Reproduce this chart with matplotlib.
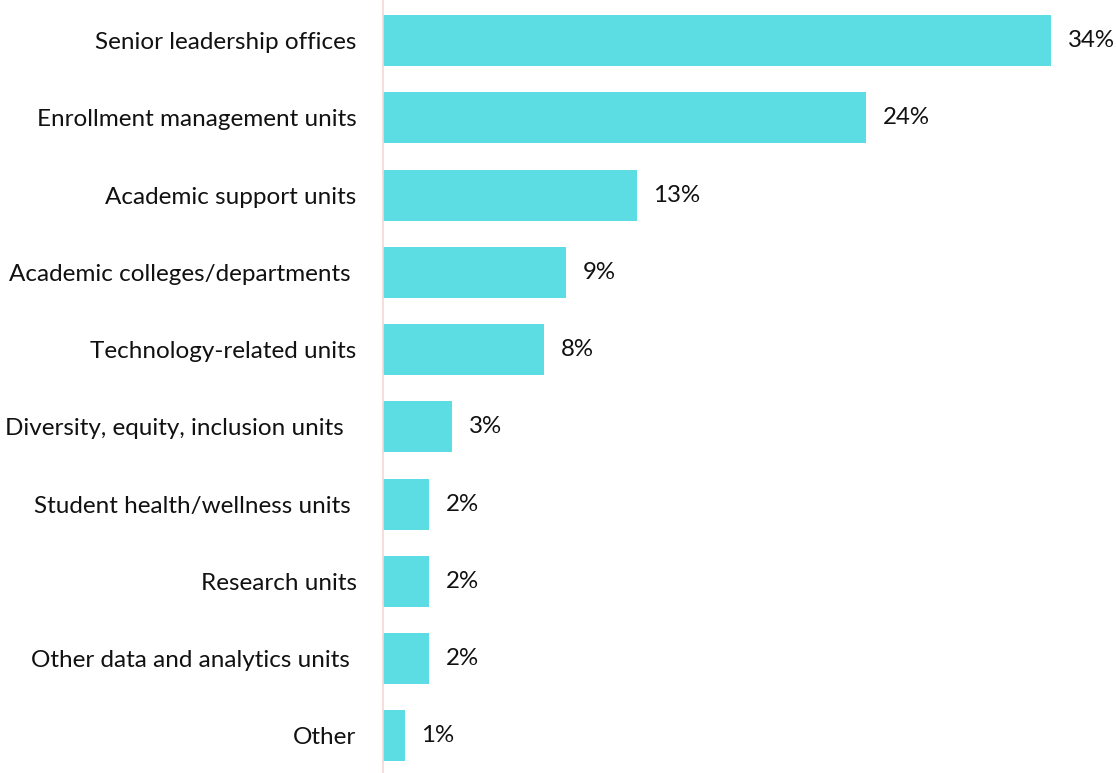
import numpy as np
import matplotlib.pyplot as plt

categories = [
    "Senior leadership offices",
    "Enrollment management units",
    "Academic support units",
    "Academic colleges/departments ",
    "Technology-related units",
    "Diversity, equity, inclusion units  ",
    "Student health/wellness units ",
    "Research units",
    "Other data and analytics units ",
    "Other",
]
values = [34.0, 24.6, 12.9, 9.3, 8.2, 3.5, 2.35, 2.35, 2.35, 1.1]
labels = ["34%", "24%", "13%", "9%", "8%", "3%", "2%", "2%", "2%", "1%"]

plt.rcParams["font.family"] = ["Lato", "DejaVu Sans"]

fig = plt.figure(figsize=(11.16, 7.73), dpi=100)
ax = fig.add_axes([383 / 1116, 0, 1 - 383 / 1116, 1])

y = np.arange(len(categories))
bars = ax.barh(y, values, height=0.66, color="#5BDDE3")

ax.set_ylim(9.479, -0.524)
ax.set_xlim(0, 37.3)

for bar, lab in zip(bars, labels):
    ax.annotate(lab, (bar.get_width(), bar.get_y() + bar.get_height() / 2),
                xytext=(12, 0), textcoords="offset points",
                ha="left", va="center", fontsize=17.3, color="#111111")

ax.set_yticks(y)
ax.set_yticklabels(categories, fontsize=17.5, color="#111111")
ax.tick_params(axis="y", length=0, pad=19)
ax.set_xticks([])

for s in ["top", "right", "bottom"]:
    ax.spines[s].set_visible(False)
ax.spines["left"].set_color("#F9D5D5")
ax.spines["left"].set_linewidth(1.2)

fig.savefig("out.png", dpi=100)
